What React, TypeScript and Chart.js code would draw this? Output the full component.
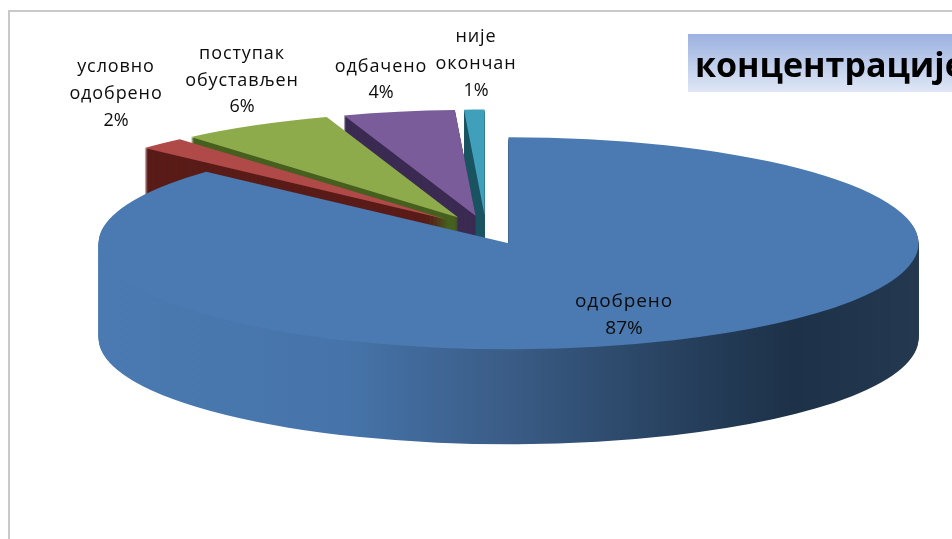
import React, { useEffect, useRef } from "react";
import { Chart, registerables } from "chart.js";

Chart.register(...registerables);

const categories = ["одобрено", "условно одобрено", "поступак обустављен", "одбачено", "није окончан"];
const shares = [86.8, 1.9, 6.1, 4.4, 0.8];

const topColors = ["#4a7ab1", "#b04a48", "#8eab4c", "#7a5c9a", "#40a0bc"];
const sideColors = ["#3d6494", "#5a1c18", "#47601f", "#3b2a52", "#1c5562"];
const mainSideStops: [number, string][] = [
  [0, "#4a7ab1"],
  [0.3, "#4674aa"],
  [0.5, "#3a5c86"],
  [0.72, "#263f5c"],
  [0.85, "#1d3148"],
  [1, "#24394f"],
];

const titleText = "концентрације";
const labelAnchors = [
  [624, 302],
  [116, 67],
  [242, 54],
  [381, 67],
  [476, 37],
];
const labelLeading = [27, 27, 26.5, 26, 27];
const labelSizes = [19, 18, 18, 18, 18];

const W = 952;
const H = 539;
const RIM_RADIUS = 410;
const EXPLODE = 56;
const SQUASH = 0.2585;
const DEPTH = 95;
const PAINT_ORDER = [4, 3, 2, 1, 0];

function paintArc(ctx: CanvasRenderingContext2D, arc: any, fill: any, dy: number) {
  const mid = (arc.startAngle + arc.endAngle) / 2;
  const ghost = Object.create(arc);
  ghost.outerRadius = RIM_RADIUS;
  ghost.options = {
    backgroundColor: fill,
    borderColor: "transparent",
    borderWidth: 0,
    borderRadius: 0,
    borderAlign: "center",
    offset: 0,
    spacing: 0,
    circular: true,
  };
  ctx.save();
  ctx.translate(arc.x, arc.y + dy);
  ctx.scale(1, SQUASH);
  ctx.translate(-arc.x + Math.cos(mid) * EXPLODE, -arc.y + Math.sin(mid) * EXPLODE);
  ghost.draw(ctx);
  ctx.restore();
}

const pie3d = {
  id: "pie3d",
  beforeDraw(chart: any) {
    const { ctx } = chart;
    ctx.save();
    ctx.fillStyle = "#ffffff";
    ctx.fillRect(0, 0, W, H);
    ctx.strokeStyle = "#c9c9c9";
    ctx.lineWidth = 2;
    ctx.strokeRect(9, 11, W + 20, H + 20);
    ctx.restore();
  },
  beforeDatasetDraw(chart: any) {
    const { ctx } = chart;
    const arcs = chart.getDatasetMeta(0).data;
    const grad = ctx.createLinearGradient(76, 0, 896, 0);
    mainSideStops.forEach(([p, c]) => grad.addColorStop(p, c));
    PAINT_ORDER.forEach((i) => {
      const side = i === 0 ? grad : sideColors[i];
      for (let d = DEPTH; d >= 1; d--) paintArc(ctx, arcs[i], side, d);
      paintArc(ctx, arcs[i], topColors[i], 0);
    });
    return false;
  },
  afterDraw(chart: any) {
    const { ctx } = chart;
    ctx.save();
    const g = ctx.createLinearGradient(0, 34, 0, 92);
    g.addColorStop(0, "#9bb1df");
    g.addColorStop(1, "#dfe7f6");
    ctx.fillStyle = g;
    ctx.fillRect(688, 34, W - 688, 58);
    ctx.fillStyle = "#000000";
    ctx.textAlign = "left";
    ctx.textBaseline = "alphabetic";
    ctx.font = 'bold 34px "Open Sans"';
    ctx.fillText(titleText, 695, 77);
    ctx.textAlign = "center";
    ctx.textBaseline = "middle";
    ctx.fillStyle = "#0c0c0c";
    categories.forEach((name, i) => {
      ctx.font = `${labelSizes[i]}px "Open Sans"`;
      const words = name.split(" ");
      words.forEach((line, k) => {
        (ctx as any).letterSpacing = "0.9px";
        ctx.fillText(line, labelAnchors[i][0], labelAnchors[i][1] + k * labelLeading[i]);
      });
      (ctx as any).letterSpacing = "0px";
      ctx.fillText(`${Math.round(shares[i])}%`, labelAnchors[i][0], labelAnchors[i][1] + words.length * labelLeading[i]);
    });
    ctx.restore();
  },
};

export default function App() {
  const ref = useRef<HTMLCanvasElement | null>(null);
  useEffect(() => {
    const chart = new Chart(ref.current as HTMLCanvasElement, {
      type: "pie",
      data: {
        labels: categories,
        datasets: [
          {
            data: shares,
            backgroundColor: topColors,
            borderWidth: 0,
            clip: false,
          } as any,
        ],
      },
      options: {
        responsive: false,
        animation: false,
        devicePixelRatio: 1,
        radius: RIM_RADIUS,
        layout: { padding: { left: 20, bottom: 79 } },
        plugins: { legend: { display: false }, tooltip: { enabled: false }, title: { display: false } },
      } as any,
      plugins: [pie3d as any],
    });
    return () => chart.destroy();
  }, []);
  return (
    <canvas
      ref={ref}
      width={W}
      height={H}
      style={{ position: "fixed", left: 0, top: 0, width: W, height: H, display: "block" }}
    />
  );
}
